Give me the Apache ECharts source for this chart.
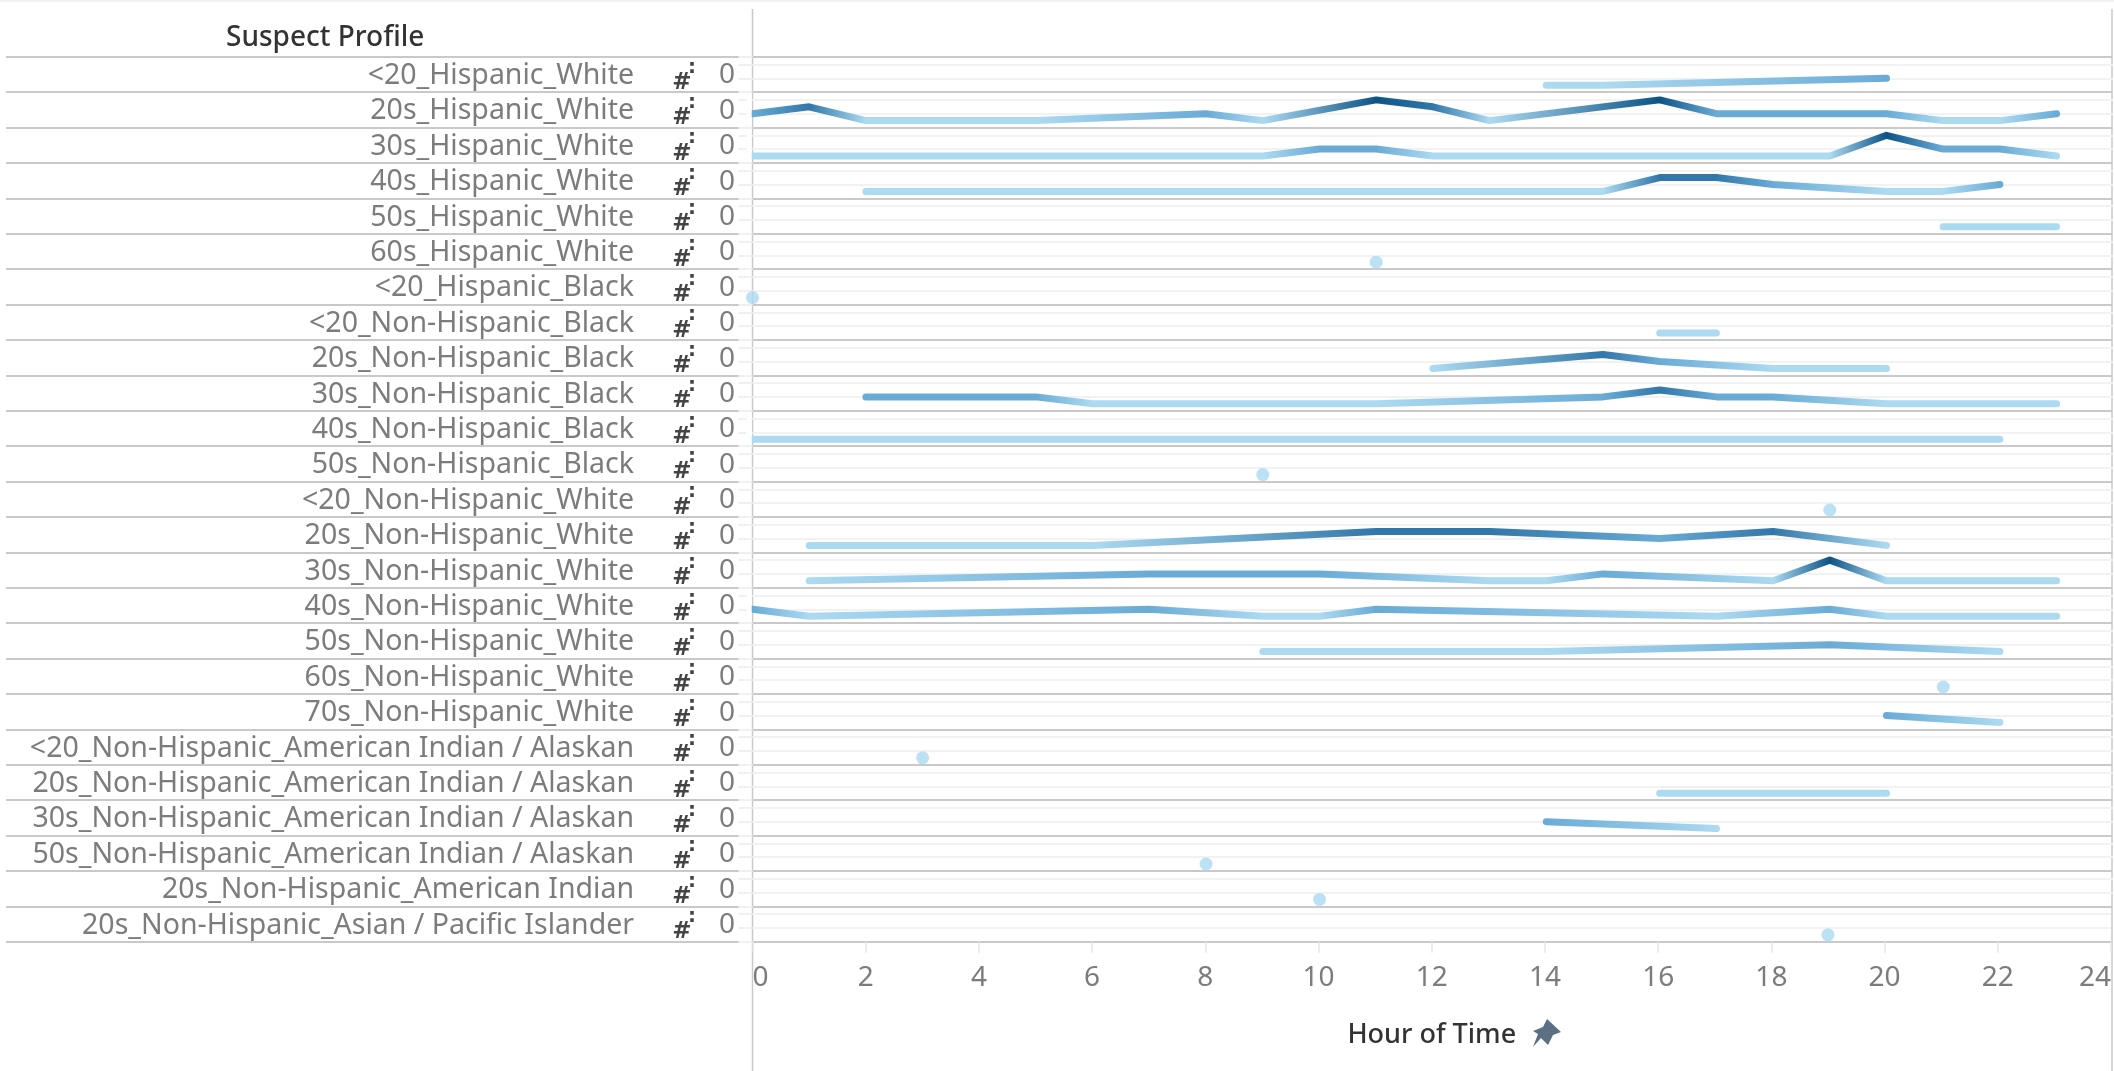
<!DOCTYPE html>
<html><head><meta charset="utf-8">
<style>html,body{margin:0;padding:0;background:#fff}#c{width:2114px;height:1071px}</style>
<script src="https://cdn.jsdelivr.net/npm/echarts@6/dist/echarts.min.js"></script>
</head><body><div id="c"></div>
<script>
const rowLabels = ['<20_Hispanic_White','20s_Hispanic_White','30s_Hispanic_White','40s_Hispanic_White','50s_Hispanic_White','60s_Hispanic_White','<20_Hispanic_Black','<20_Non-Hispanic_Black','20s_Non-Hispanic_Black','30s_Non-Hispanic_Black','40s_Non-Hispanic_Black','50s_Non-Hispanic_Black','<20_Non-Hispanic_White','20s_Non-Hispanic_White','30s_Non-Hispanic_White','40s_Non-Hispanic_White','50s_Non-Hispanic_White','60s_Non-Hispanic_White','70s_Non-Hispanic_White','<20_Non-Hispanic_American Indian / Alaskan','20s_Non-Hispanic_American Indian / Alaskan','30s_Non-Hispanic_American Indian / Alaskan','50s_Non-Hispanic_American Indian / Alaskan','20s_Non-Hispanic_American Indian','20s_Non-Hispanic_Asian / Pacific Islander'];
const totals = rowLabels.map(() => '0');
const xTicks = 2;
// [hour, count] per row
const r01 = [[14,1],[15,1],[20,2]];
const r02 = [[0,2],[1,3],[2,1],[3,1],[4,1],[5,1],[8,2],[9,1],[11,4],[12,3],[13,1],[16,4],[17,2],[18,2],[19,2],[20,2],[21,1],[22,1],[23,2]];
const r03 = [[0,1],[1,1],[2,1],[3,1],[4,1],[5,1],[6,1],[7,1],[8,1],[9,1],[10,2],[11,2],[12,1],[13,1],[14,1],[15,1],[16,1],[17,1],[18,1],[19,1],[20,4],[21,2],[22,2],[23,1]];
const r04 = [[2,1],[3,1],[4,1],[5,1],[6,1],[7,1],[8,1],[9,1],[10,1],[11,1],[12,1],[13,1],[14,1],[15,1],[16,3],[17,3],[18,2],[20,1],[21,1],[22,2]];
const r05 = [[21,1],[22,1],[23,1]];
const r06 = [[11,1]];
const r07 = [[0,1]];
const r08 = [[16,1],[17,1]];
const r09 = [[12,1],[15,3],[16,2],[18,1],[19,1],[20,1]];
const r10 = [[2,2],[3,2],[4,2],[5,2],[6,1],[7,1],[8,1],[9,1],[10,1],[11,1],[15,2],[16,3],[17,2],[18,2],[20,1],[21,1],[22,1],[23,1]];
const r11 = [[0,1],[2,1],[4,1],[6,1],[8,1],[10,1],[12,1],[14,1],[16,1],[18,1],[20,1],[22,1]];
const r12 = [[9,1]];
const r13 = [[19,1]];
const r14 = [[1,1],[2,1],[3,1],[4,1],[5,1],[6,1],[11,3],[12,3],[13,3],[16,2],[18,3],[20,1]];
const r15 = [[1,1],[7,2],[8,2],[9,2],[10,2],[13,1],[14,1],[15,2],[18,1],[19,4],[20,1],[21,1],[22,1],[23,1]];
const r16 = [[0,2],[1,1],[7,2],[9,1],[10,1],[11,2],[17,1],[19,2],[20,1],[21,1],[22,1],[23,1]];
const r17 = [[9,1],[14,1],[19,2],[22,1]];
const r18 = [[21,1]];
const r19 = [[20,2],[22,1]];
const r20 = [[3,1]];
const r21 = [[16,1],[18,1],[20,1]];
const r22 = [[14,2],[17,1]];
const r23 = [[8,1]];
const r24 = [[10,1]];
const r25 = [[19,1]];
const rows = [r01,r02,r03,r04,r05,r06,r07,r08,r09,r10,r11,r12,r13,r14,r15,r16,r17,r18,r19,r20,r21,r22,r23,r24,r25];
// colour of a count of 1, 2, 3, 4
const countColors = ['#acdaf1', '#6aabd6', '#3277a9', '#0d5486'];

const FONT = 'Noto Sans', TXT = '#7c7c7c', RULE = '#c9c9c9';
const TOP = 56.7, RH = 35.4, LEFT = 752.5, PLOTW = 1360.8, HOURS = 24, N = rows.length;

// line colour runs along the line, from count to count, as in the original
const hourX = h => LEFT + h / HOURS * PLOTW;
const lineGradient = pts => {
  const h0 = pts[0][0], h1 = pts[pts.length - 1][0];
  return {
    type: 'linear', global: true, x: hourX(h0), y: 0, x2: hourX(h1), y2: 0,
    colorStops: pts.map(([h, v]) => ({offset: (h - h0) / (h1 - h0), color: countColors[v - 1]}))
  };
};

const grid = [], xAxis = [], yAxis = [], series = [];
rows.forEach((pts, i) => {
  grid.push({left: LEFT, width: PLOTW, top: TOP + i * RH, height: RH});
  const last = i === N - 1;
  xAxis.push({
    gridIndex: i, type: 'value', min: 0, max: HOURS, interval: xTicks,
    splitLine: {show: false}, axisLine: {show: false},
    axisTick: {show: last, length: 11, lineStyle: {color: '#e6e6e6', width: 1.5}},
    axisLabel: {show: last, margin: 22, fontFamily: FONT, fontSize: 28, color: TXT, alignMinLabel: 'left', alignMaxLabel: 'right'},
    name: last ? 'Hour of Time' : '', nameLocation: 'middle', nameGap: 80,
    nameTextStyle: {fontFamily: FONT, fontSize: 27, color: '#333', fontWeight: 500}
  });
  yAxis.push({
    gridIndex: i, type: 'value', min: 0, max: 5.13, interval: 2,
    axisLabel: {show: false}, axisLine: {show: false},
    axisTick: {show: true, length: 14, lineStyle: {color: '#f0f0f0', width: 2}},
    splitLine: {show: true, showMinLine: false, showMaxLine: false, lineStyle: {color: '#f2f2f2', width: 2}}
  });
  const base = {name: rowLabels[i], xAxisIndex: i, yAxisIndex: i, data: pts};
  if (pts.length === 1) series.push({...base, type: 'scatter', symbolSize: 13, clip: true,
    itemStyle: {color: countColors[pts[0][1] - 1]}});
  else series.push({...base, type: 'line', symbol: 'none', clip: true,
    lineStyle: {width: 7, cap: 'round', join: 'round', color: lineGradient(pts)}});
});

// header grid: row rules and the three text columns of the table
grid.push({left: 6, right: 2, top: TOP, height: RH * N});
xAxis.push({gridIndex: N, type: 'value', min: 0, max: 1, show: false});
const col = (data, margin, label) => ({
  gridIndex: N, type: 'category', inverse: true, data, position: 'left',
  axisLine: {show: false}, axisTick: {show: false},
  axisLabel: {inside: true, margin, interval: 0, ...label},
  splitLine: {show: false}
});
yAxis.push({...col(rowLabels, 628, {align: 'right', verticalAlign: 'top', lineHeight: 3, fontFamily: FONT, fontSize: 28.5, color: TXT}),
  splitLine: {show: true, interval: 0, lineStyle: {color: RULE, width: 2}}});
yAxis.push(col(totals, 727 - 6, {align: 'center', verticalAlign: 'top', lineHeight: 2, fontFamily: FONT, fontSize: 28, color: TXT}));
yAxis.push(col(totals, 682 - 6, {align: 'center', verticalAlign: 'top', lineHeight: 17, fontFamily: 'DejaVu Sans', fontSize: 23, fontWeight: 'bold', color: '#444', formatter: () => '#'}));
yAxis.push(col(totals, 692 - 6, {align: 'center', verticalAlign: 'bottom', lineHeight: 14, fontFamily: 'DejaVu Sans', fontSize: 20, fontWeight: 'bold', color: '#444', formatter: () => ':'}));
series.push({type: 'line', xAxisIndex: N, yAxisIndex: N, data: [], silent: true});

// keep line ends that start at hour 0 from spilling left of the plot edge
const edgeMasks = rows.map((pts, i) => pts.length > 1 && pts[0][0] === 0 ? {
  type: 'rect', z: 5, silent: true,
  shape: {x: LEFT - 6, y: TOP + i * RH + 2, width: 5.2, height: RH - 4}, style: {fill: '#fff'}
} : null).filter(Boolean);

const chart = echarts.init(document.getElementById('c'), null, {renderer: 'canvas'});
chart.setOption({
  animation: false, backgroundColor: '#fff',
  title: {text: 'Suspect Profile', left: 221, top: 19, textStyle: {fontFamily: FONT, fontSize: 28, fontWeight: 500, color: '#333'}},
  grid, xAxis, yAxis, series,
  graphic: [
    ...edgeMasks,
    {type: 'rect', shape: {x: 0, y: 0, width: 2114, height: 2}, style: {fill: '#f2f2f2'}, silent: true},
    {type: 'line', shape: {x1: 752.5, y1: 9, x2: 752.5, y2: 1071}, style: {stroke: RULE, lineWidth: 1.5}, z: 0, silent: true},
    {type: 'line', shape: {x1: 2112, y1: 9, x2: 2112, y2: 1071}, style: {stroke: RULE, lineWidth: 1.5}, z: 0, silent: true},
    {type: 'polygon', shape: {points: [[1547,1019],[1561,1032],[1553,1035],[1548,1045],[1541,1038],[1533,1047],[1538,1034],[1533,1031],[1543,1027]]}, style: {fill: '#5b6f85'}, silent: true}
  ]
});
</script></body></html>
